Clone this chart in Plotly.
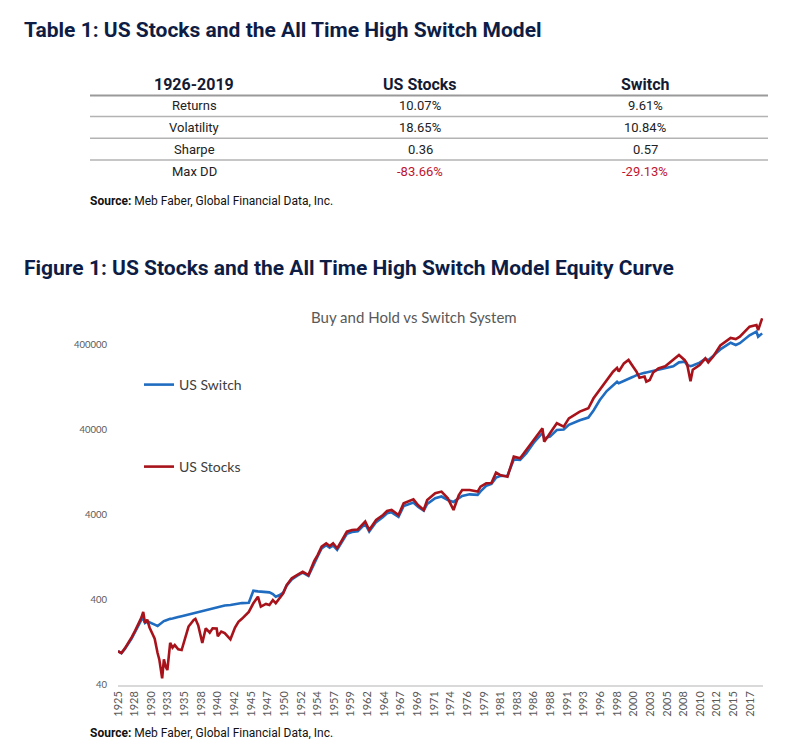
import math
import plotly.graph_objects as go

# ---------------- data ----------------
table_header = ["1926-2019", "US Stocks", "Switch"]
row_labels = ["Returns", "Volatility", "Sharpe", "Max DD"]
us_stocks_stats = ["10.07%", "18.65%", "0.36", "-83.66%"]
switch_stats = ["9.61%", "10.84%", "0.57", "-29.13%"]

stocks_dates = [
    "1925-12", "1926-06", "1926-12", "1927-06", "1927-12", "1928-06", "1928-12", "1929-05",
    "1929-08", "1929-11", "1930-03", "1930-07", "1930-12", "1931-04", "1931-09", "1931-12",
    "1932-05", "1932-08", "1932-11", "1933-02", "1933-07", "1933-11", "1934-03", "1934-09",
    "1935-03", "1935-09", "1936-03", "1936-12", "1937-03", "1937-08", "1937-12", "1938-03",
    "1938-09", "1939-04", "1939-09", "1940-04", "1940-06", "1940-12", "1941-06", "1942-04",
    "1942-12", "1943-06", "1943-12", "1944-12", "1945-08", "1946-04", "1946-09", "1947-06",
    "1947-12", "1948-06", "1948-11", "1949-06", "1949-12", "1950-06", "1951-03", "1951-12",
    "1952-10", "1953-08", "1954-06", "1954-12", "1955-07", "1956-03", "1956-09", "1957-03",
    "1957-10", "1958-06", "1959-03", "1959-12", "1960-10", "1961-11", "1962-06", "1963-06",
    "1964-06", "1965-01", "1965-09", "1966-09", "1967-06", "1968-11", "1969-07", "1970-05",
    "1970-11", "1972-01", "1972-12", "1973-11", "1974-09", "1974-12", "1975-06", "1975-12",
    "1977-01", "1978-03", "1978-08", "1979-06", "1980-03", "1980-11", "1981-06", "1982-07",
    "1983-06", "1984-05", "1985-04", "1986-06", "1987-08", "1987-11", "1988-09", "1989-09",
    "1990-09", "1991-06", "1993-01", "1994-04", "1995-01", "1995-12", "1996-12", "1997-11",
    "1998-06", "1998-09", "1999-06", "2000-02", "2000-10", "2001-04", "2001-09", "2002-06",
    "2002-09", "2003-03", "2003-09", "2004-06", "2005-06", "2006-08", "2007-06", "2008-04",
    "2008-08", "2009-02", "2009-06", "2010-06", "2011-04", "2011-09", "2012-06", "2013-06",
    "2014-12", "2015-09", "2016-04", "2017-09", "2018-09", "2018-12", "2019-07",
]
us_stocks = [
    100, 95, 108, 125, 146, 175, 210, 250,
    290, 215, 235, 190, 160, 140, 95, 80,
    48, 80, 66, 60, 125, 110, 118, 105,
    103, 145, 195, 233, 240, 200, 148, 125,
    186, 165, 186, 185, 150, 170, 163, 138,
    190, 222, 240, 290, 366, 438, 334, 360,
    350, 400, 366, 420, 479, 600, 720, 787,
    862, 787, 1150, 1352, 1694, 1858, 1726, 1858,
    1622, 2000, 2546, 2667, 2700, 3342, 2667, 3494,
    4000, 4455, 4580, 4000, 5484, 6110, 5245, 4580,
    6000, 7200, 7537, 6285, 4580, 5245, 6800, 7873,
    7873, 7537, 8610, 9440, 9500, 12580, 11830, 11270,
    19420, 18600, 23270, 31900, 41870, 29180, 36580, 48000,
    43800, 54800, 65800, 72000, 94400, 118000, 155000, 194000,
    215000, 195000, 243000, 267000, 222000, 194000, 165000, 170000,
    148000, 155000, 190000, 212000, 225000, 267000, 305000, 265000,
    240000, 150000, 205000, 233000, 279000, 250000, 295000, 395000,
    485000, 470000, 501000, 657000, 688000, 600000, 824000,
]
us_switch = [
    100, 95, 106, 122, 142, 170, 205, 235,
    240, 215, 225, 220, 212, 205, 198, 205,
    222, 226, 230, 235, 240, 242, 248, 252,
    258, 264, 272, 279, 284, 290, 292, 294,
    300, 312, 318, 322, 325, 332, 345, 350,
    356, 366, 368, 372, 514, 505, 500, 498,
    492, 470, 438, 458, 490, 590, 700, 770,
    840, 770, 1100, 1300, 1620, 1770, 1650, 1760,
    1560, 1920, 2400, 2520, 2580, 3150, 2550, 3300,
    3780, 4200, 4300, 3800, 5100, 5600, 5000, 4500,
    5400, 6300, 6600, 6000, 5700, 5900, 6300, 6700,
    7000, 6900, 7600, 8800, 9300, 11000, 11500, 11600,
    18000, 17800, 21300, 29000, 37000, 32000, 33400, 40000,
    40500, 46000, 52000, 56000, 68000, 90000, 115000, 135000,
    148000, 142000, 150000, 158000, 169000, 177000, 182000, 188000,
    190000, 194000, 198000, 203000, 210000, 225000, 250000, 255000,
    232000, 225000, 230000, 248000, 275000, 265000, 300000, 355000,
    425000, 400000, 420000, 520000, 574000, 500000, 548000,
]

tick_dates = [
    "1925-12", "1928-05", "1930-10", "1933-03", "1935-08", "1938-01", "1940-06", "1942-11",
    "1945-04", "1947-09", "1950-02", "1952-07", "1954-12", "1957-05", "1959-10", "1962-03",
    "1964-08", "1967-01", "1969-06", "1971-11", "1974-04", "1976-09", "1979-02", "1981-07",
    "1983-12", "1986-05", "1988-10", "1991-03", "1993-08", "1996-01", "1998-06", "2000-11",
    "2003-04", "2005-09", "2008-02", "2010-07", "2012-12", "2015-05", "2017-10",
]
tick_labels = [d[:4] for d in tick_dates]
y_ticks = [40, 400, 4000, 40000, 400000]

# ---------------- layout helpers ----------------
# The page body has an 8px margin, so the figure starts at page pixel (8, 8).
OFF = 8
W, H = 800, 743
PLOT_L, PLOT_R, PLOT_T, PLOT_B = 118, 763, 310, 685  # page pixels of the plot area
L, T = PLOT_L - OFF, PLOT_T - OFF
R, B = W - (PLOT_R - OFF), H - (PLOT_B - OFF)


def px(x):
    return (x - PLOT_L) / (PLOT_R - PLOT_L)


def py(y):
    return (PLOT_B - y) / (PLOT_B - PLOT_T)


NAVY = "#0e1d45"
GREY = "#595959"
BLUE = "#1f6cc0"
RED = "#a8121a"

fig = go.Figure()
fig.add_trace(go.Scatter(
    x=stocks_dates, y=us_switch, mode="lines", name="US Switch",
    line=dict(color=BLUE, width=2.6), legend="legend",
))
fig.add_trace(go.Scatter(
    x=stocks_dates, y=us_stocks, mode="lines", name="US Stocks",
    line=dict(color=RED, width=2.6), legend="legend2",
))

ann = []
shapes = []


def text(x, y, s, size, color="#222222", anchor="center", family="Roboto"):
    ann.append(dict(x=px(x), y=py(y), xref="paper", yref="paper", text=s, showarrow=False,
                    xanchor=anchor, yanchor="middle",
                    font=dict(size=size, color=color, family=family)))


# titles
text(22, 30, "<b>Table 1: US Stocks and the All Time High Switch Model</b>", 21, NAVY, "left")
text(22, 268, "<b>Figure 1: US Stocks and the All Time High Switch Model Equity Curve</b>", 21, NAVY, "left")

# table
col_x = [194, 420, 645]
for cx, h in zip(col_x, table_header):
    text(cx, 84, "<b>" + h + "</b>", 16, "#151a33")
shapes.append(dict(type="line", xref="paper", yref="paper", x0=px(90), x1=px(768),
                   y0=py(95.5), y1=py(95.5), line=dict(color="#9a9a9a", width=2)))
row_y = [105.5, 127.5, 149, 171]
for i, (lab, a, b) in enumerate(zip(row_labels, us_stocks_stats, switch_stats)):
    yy = row_y[i]
    c = "#c0142f" if lab == "Max DD" else "#222222"
    text(col_x[0], yy, lab, 13, "#222222")
    text(col_x[1], yy, a, 13, c)
    text(col_x[2], yy, b, 13, c)
    if i < len(row_labels) - 1:
        ly = (row_y[i] + row_y[i + 1]) / 2
        shapes.append(dict(type="line", xref="paper", yref="paper", x0=px(90), x1=px(768),
                           y0=py(ly), y1=py(ly), line=dict(color="#b3b3b3", width=1.5)))

text(88, 201, "<b>Source:</b> Meb Faber, Global Financial Data, Inc.", 12, "#111111", "left")
text(88, 733, "<b>Source:</b> Meb Faber, Global Financial Data, Inc.", 12, "#111111", "left")

# chart title
text(414, 317, "Buy and Hold vs Switch System", 15, GREY, "center", family="Lato")

fig.update_layout(
    width=W, height=H,
    margin=dict(l=L, r=R, t=T, b=B, pad=0),
    paper_bgcolor="white", plot_bgcolor="white",
    showlegend=True,
    annotations=ann, shapes=shapes,
    legend=dict(x=px(139), y=py(385), xanchor="left", yanchor="middle",
                bgcolor="rgba(0,0,0,0)", font=dict(size=14, color="#404040", family="Lato"),
                itemwidth=30),
    legend2=dict(x=px(139), y=py(467), xanchor="left", yanchor="middle",
                 bgcolor="rgba(0,0,0,0)", font=dict(size=14, color="#404040", family="Lato"),
                 itemwidth=30),
    xaxis=dict(type="date", range=["1925-12-01", "2019-08-15"], tickvals=tick_dates,
               ticktext=tick_labels, tickangle=-90, showgrid=False, zeroline=False,
               showline=True, linecolor="#d9d9d9", linewidth=1.5, ticks="",
               tickfont=dict(size=11, color=GREY, family="Lato")),
    yaxis=dict(type="log", range=[math.log10(40), math.log10(40) + (PLOT_B - PLOT_T) / 85.0],
               tickvals=y_ticks, ticktext=[str(v) for v in y_ticks], showgrid=False,
               zeroline=False, showline=False, ticks="", ticklabelstandoff=10,
               tickfont=dict(size=9.5, color=GREY, family="Lato")),
    font=dict(family="Lato"),
)

fig.write_html("out.html")
